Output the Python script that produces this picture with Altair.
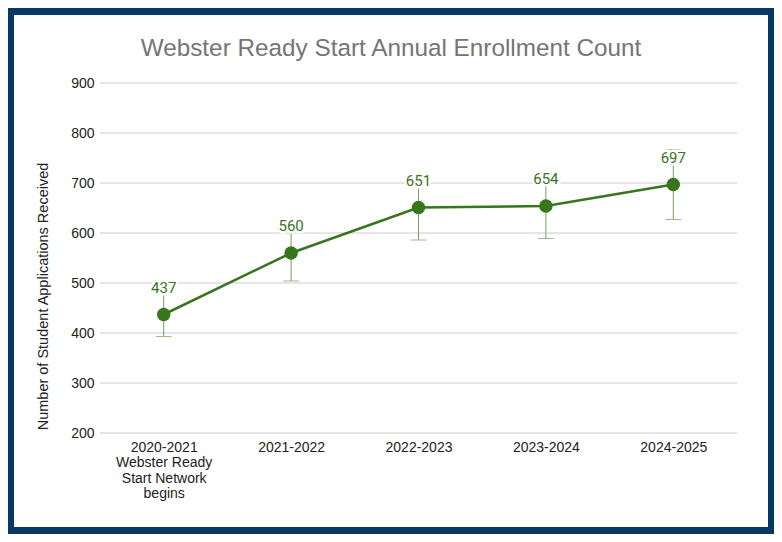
import altair as alt
import pandas as pd

title_text = "Webster Ready Start Annual Enrollment Count"
years = ["2020-2021\nWebster Ready\nStart Network\nbegins", "2021-2022", "2022-2023", "2023-2024", "2024-2025"]
counts = [437, 560, 651, 654, 697]
low = [393, 504, 586, 589, 627]
high = [481, 616, 716, 719, 767]
yticks = [200, 300, 400, 500, 600, 700, 800, 900]

df = pd.DataFrame({"year": years, "count": counts, "low": low, "high": high})
grid_df = pd.DataFrame({"v": yticks})

GREEN = "#38761d"
ERR = "#76a05a"
BLUE = "#073763"

xenc = alt.X("year:N", sort=years, title=None,
             scale=alt.Scale(type="point", padding=0.5),
             axis=alt.Axis(labelAngle=0, labelExpr="split(datum.value, '\\n')",
                           labelFont="Liberation Sans", labelFontSize=14, labelColor="#222",
                           labelLineHeight=15.5, labelPadding=7, ticks=False, domain=False,
                           grid=False, labelBaseline="top", zindex=1))
yscale = alt.Scale(domain=[200, 900], nice=False, zero=False)
yaxis = alt.Axis(values=yticks, ticks=False, domain=False, grid=False, zindex=1,
                 labelFont="Liberation Sans", labelFontSize=14, labelColor="#222", labelPadding=6,
                 title="Number of Student Applications Received", titleFont="Liberation Sans",
                 titleFontSize=14.5, titleFontWeight="normal", titleColor="#222",
                 titleX=-53, titleY=213, titleBaseline="alphabetic", titleAngle=-90)

bg = alt.Chart(alt.Data(values=[{}])).mark_rect(color="white").encode(
    x=alt.value(-86), x2=alt.value(668), y=alt.value(-68), y2=alt.value(444))

title = alt.Chart(alt.Data(values=[{"t": title_text}])).mark_text(
    font="Liberation Sans", fontSize=24.3, color="#757575", align="center",
    baseline="alphabetic").encode(x=alt.value(291), y=alt.value(-27), text="t:N")

grid = alt.Chart(grid_df).mark_rule(color="#cccccc", strokeWidth=1).encode(
    y=alt.Y("v:Q", scale=yscale, axis=yaxis), x=alt.value(0), x2=alt.value(637))

base = alt.Chart(df)

rule = base.mark_rule(color=ERR, strokeWidth=1).encode(
    x=xenc, y=alt.Y("low:Q"), y2="high:Q")
tick_lo = base.mark_tick(color=ERR, size=16, thickness=1, orient="horizontal").encode(
    x="year:N", y="low:Q")
tick_hi = base.mark_tick(color=ERR, size=16, thickness=1, orient="horizontal").encode(
    x="year:N", y="high:Q")
line = base.mark_line(color=GREEN, strokeWidth=2.5).encode(x="year:N", y="count:Q")
pts = base.mark_circle(color=GREEN, size=180, opacity=1).encode(x="year:N", y="count:Q")
halo = base.mark_text(font="Roboto", fontSize=15, baseline="alphabetic", dy=-22,
                      stroke="white", strokeWidth=5, fill="white").encode(
    x="year:N", y="count:Q", text="count:Q")
lab = base.mark_text(font="Roboto", fontSize=15, baseline="alphabetic", dy=-22,
                     color=GREEN).encode(x="year:N", y="count:Q", text="count:Q")

chart = alt.layer(bg, title, grid, rule, tick_lo, tick_hi, line, pts, halo, lab).properties(
    width=637, height=350,
    autosize=alt.AutoSizeParams(type="none"),
    padding={"left": 92, "top": 75, "right": 37, "bottom": 101},
    background=BLUE,
).configure_view(stroke=None)

chart.save("out.html", embed_options={"renderer": "svg", "actions": False})
